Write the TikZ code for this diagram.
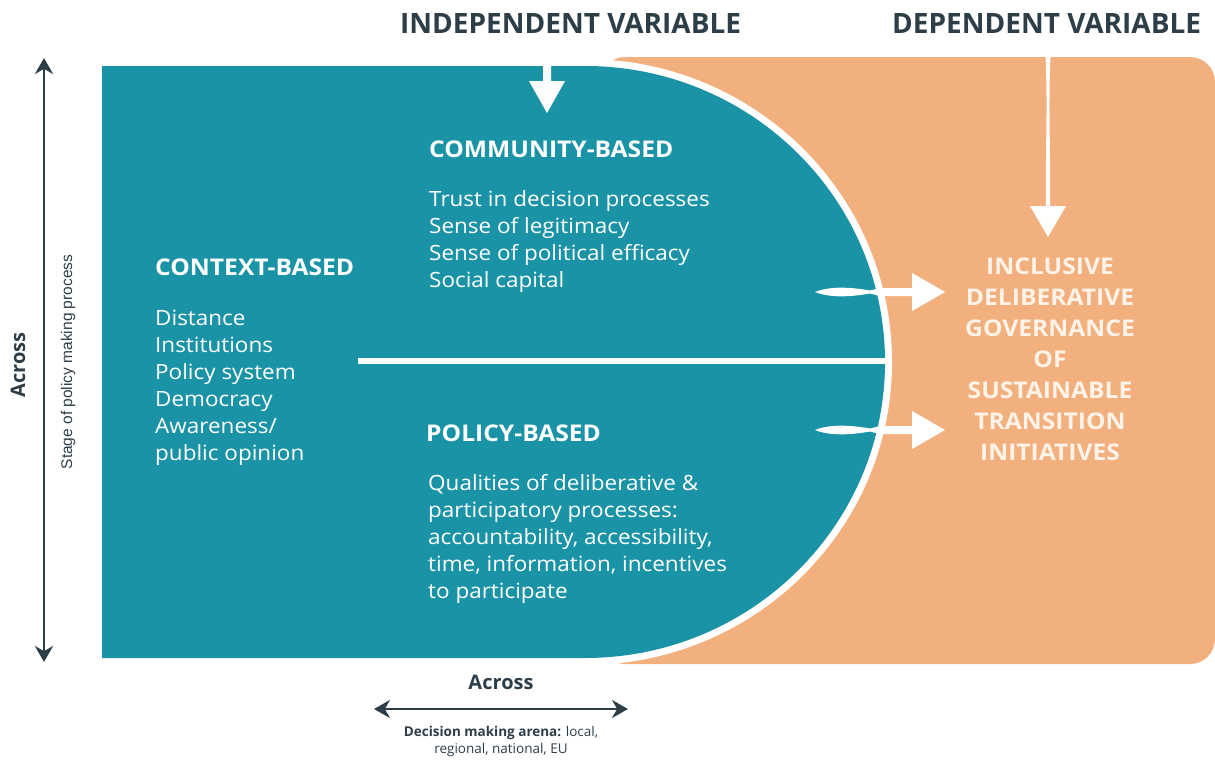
\documentclass[tikz,border=0pt]{standalone}
\usepackage{fontspec}
\setmainfont{Open Sans}
\newfontfamily\widefont[FakeStretch=1.07]{Open Sans}
\newfontfamily\arialfont{Liberation Sans}
\definecolor{tealc}{HTML}{1B93A6}
\definecolor{orangec}{HTML}{F2B07F}
\definecolor{darkc}{HTML}{2D3E48}
\definecolor{creamc}{HTML}{FDF3E8}
\tikzset{
  hdr/.style={font=\bfseries\fontsize{28}{28}\selectfont, text=darkc, inner sep=0pt, anchor=base west},
  sect/.style={font=\widefont\bfseries\fontsize{23}{23}\selectfont, text=white, inner sep=0pt, anchor=base west},
  body/.style={font=\widefont\fontsize{21}{27}\selectfont, text=white, inner sep=0pt, align=left, anchor=base west},
  outcome/.style={font=\widefont\bfseries\fontsize{23}{31}\selectfont, text=creamc, inner sep=0pt, align=center, anchor=base},
  dark arrow/.style={draw=darkc, line width=2.2pt, {Stealth[length=16pt,width=18pt]}-{Stealth[length=16pt,width=18pt]}},
}
\usetikzlibrary{arrows.meta}
\begin{document}
\begin{tikzpicture}[x=1pt,y=-1pt]
\useasboundingbox (0,0) rectangle (1215,763);
% orange region
\fill[orangec, rounded corners=25pt] (600,57) rectangle (1215,664);
% white band
\fill[white] (102,59) -- (585,59) arc[start angle=-90, end angle=90, x radius=307, y radius=303] -- (102,665) -- cycle;
% teal region
\fill[tealc] (102,66) -- (585,66) arc[start angle=-90, end angle=90, x radius=300, y radius=296] -- (102,658) -- cycle;
% dividing line
\coordinate (divL) at (358,361);
\coordinate (divR) at (888,361);
\draw[white, line width=6pt] (divL) -- (divR);
% independent arrow
\fill[white] (543,60) -- (551,60) -- (551,81) -- (565,81) -- (547,113) -- (529,81) -- (543,81) -- cycle;
% dependent arrow
\fill[white] (1045.5,57) .. controls (1048,110) and (1045,160) .. (1046,206) -- (1030,206) -- (1048,237) -- (1066,206) -- (1050,206) .. controls (1051,160) and (1048,110) .. (1050.5,57) -- cycle;
% right arrows
\foreach \yy in {292,430}{
\fill[white] (815,\yy) .. controls (830,\yy-6) and (850,\yy-5) .. (870,\yy-1.5) -- (880,\yy-4) -- (912,\yy-4) -- (912,\yy-19) -- (945,\yy) -- (912,\yy+19) -- (912,\yy+4) -- (880,\yy+4) -- (870,\yy+1.5) .. controls (850,\yy+5) and (830,\yy+6) .. (815,\yy) -- cycle;
}
% headers
\node[hdr] (indep) at (400,33) {INDEPENDENT VARIABLE};
\node[hdr] (dep) at (892,33) {DEPENDENT VARIABLE};
% sections
\node[sect] (comm) at (429,157) {COMMUNITY-BASED};
\node[body] (commtxt) at (429,287) {Trust in decision processes\\Sense of legitimacy\\Sense of political efficacy\\Social capital};
\node[sect] (ctx) at (155,275) {CONTEXT-BASED};
\node[body] (ctxtxt) at (155,460) {Distance\\Institutions\\Policy system\\Democracy\\Awareness/\\public opinion};
\node[sect] (pol) at (426,441) {POLICY-BASED};
\node[body] (poltxt) at (428,598) {Qualities of deliberative \&\\participatory processes:\\accountability, accessibility,\\time, information, incentives\\to participate};
\node[outcome] (out) at (1050,460) {INCLUSIVE\\DELIBERATIVE\\GOVERNANCE\\OF\\SUSTAINABLE\\TRANSITION\\INITIATIVES};
% left axis
\coordinate (vTop) at (44,58);
\coordinate (vBot) at (44,662);
\draw[dark arrow] (vTop) -- (vBot);
\node[font=\bfseries\fontsize{20}{20}\selectfont, text=darkc, rotate=90, inner sep=0pt] (acrossV) at (18,365) {Across};
\node[font=\arialfont\fontsize{15.5}{15.5}\selectfont, text=darkc, rotate=90, inner sep=0pt] (stage) at (68,362) {Stage of policy making process};
% bottom axis
\node[font=\bfseries\fontsize{20}{20}\selectfont, text=darkc, inner sep=0pt] (acrossH) at (501,682) {Across};
\coordinate (hL) at (374,709);
\coordinate (hR) at (628,709);
\draw[dark arrow] (hL) -- (hR);
\node[font=\fontsize{13.5}{17}\selectfont, text=darkc, align=center, inner sep=0pt] (arena) at (501,741) {\textbf{Decision making arena:} local,\\regional, national, EU};
\end{tikzpicture}
\end{document}
